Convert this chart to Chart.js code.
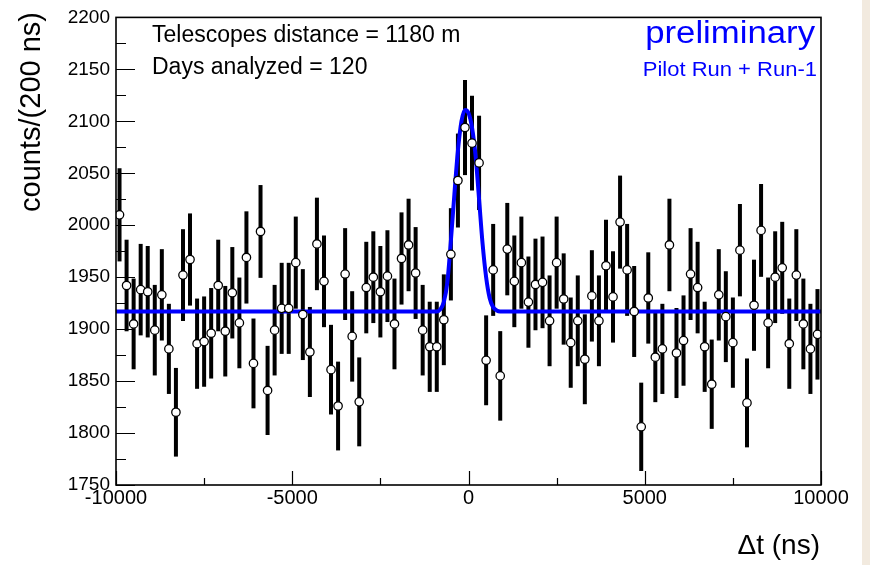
<!DOCTYPE html>
<html>
<head>
<meta charset="utf-8">
<title>Δt distribution</title>
<script src="https://cdn.jsdelivr.net/npm/chart.js@4.4.1/dist/chart.umd.min.js"></script>
<style>
  html, body { margin: 0; padding: 0; background: #fff; }
  #wrap { position: relative; width: 870px; height: 565px; overflow: hidden; }
  #edge { position: absolute; left: 862px; top: 0; width: 8px; height: 565px; background: #f2eadf; }
</style>
</head>
<body>
<div id="wrap">
  <canvas id="chart" width="870" height="565"></canvas>
  <div id="edge"></div>
</div>
<script>
// histogram binning (ns)
const binLow = -10000;
const binWidth = 200;

// counts per 200 ns bin, from -10000 to 10000 ns
const counts = [
  2010, 1942, 1905, 1938, 1936, 1899, 1933, 1881, 1820, 1952,
  1967, 1886, 1888, 1896, 1942, 1898, 1935, 1906, 1969, 1867,
  1994, 1841, 1899, 1920, 1920, 1964, 1914, 1878, 1982, 1946,
  1861, 1826, 1953, 1893, 1830, 1940, 1950, 1936, 1951, 1905,
  1968, 1981, 1954, 1899, 1883, 1883, 1909, 1972, 2043, 2094,
  2079, 2060, 1870, 1957, 1855, 1977, 1946, 1964, 1926, 1943,
  1945, 1908, 1964, 1929, 1887, 1908, 1871, 1932, 1908, 1961,
  1931, 2003, 1957, 1917, 1806, 1930, 1873, 1881, 1981, 1877,
  1889, 1953, 1940, 1883, 1847, 1933, 1912, 1887, 1976, 1829,
  1923, 1995, 1906, 1950, 1959, 1886, 1952, 1905, 1881, 1895
];

// fitted curve (gaussian peak on flat background), sampled
const fitT = [-10000, -1000, -900, -800, -700, -600, -500, -400, -300, -200, -100, 0,
  100, 200, 300, 400, 500, 600, 700, 800, 900, 10000];
const fitY = [1917, 1917, 1917, 1919, 1926, 1945, 1985, 2030, 2072, 2100, 2111, 2108,
  2094, 2067, 2025, 1982, 1950, 1930, 1921, 1918, 1917, 1917];

const xTicks = [-10000, -7500, -5000, -2500, 0, 2500, 5000, 7500, 10000];
const xTickLabels = ['-10000', '', '-5000', '', '0', '', '5000', '', '10000'];
const yTicks = [1750, 1775, 1800, 1825, 1850, 1875, 1900, 1925, 1950, 1975, 2000,
  2025, 2050, 2075, 2100, 2125, 2150, 2175, 2200];

const points = counts.map((c, i) => ({ x: binLow + binWidth * (i + 0.5), y: c }));
const fitPoints = fitT.map((t, i) => ({ x: t, y: fitY[i] }));

const FONT = '"Liberation Sans", Arial, Helvetica, sans-serif';

// poisson error bars under the markers
const errorBars = {
  id: 'errorBars',
  beforeDatasetsDraw(chart) {
    const { ctx, scales: { x, y } } = chart;
    ctx.save();
    ctx.strokeStyle = '#000';
    ctx.lineWidth = 4;
    points.forEach(p => {
      const e = Math.sqrt(p.y);
      const px = x.getPixelForValue(p.x);
      ctx.beginPath();
      ctx.moveTo(px, y.getPixelForValue(p.y - e));
      ctx.lineTo(px, y.getPixelForValue(p.y + e));
      ctx.stroke();
    });
    ctx.restore();
  }
};

// frame, inner tick marks and text
const decorations = {
  id: 'decorations',
  afterDraw(chart) {
    const { ctx, chartArea: a, scales: { x, y } } = chart;
    ctx.save();
    ctx.strokeStyle = '#000';
    ctx.lineWidth = 1.6;
    ctx.strokeRect(a.left, a.top, a.right - a.left, a.bottom - a.top);

    ctx.lineWidth = 1.2;
    ctx.beginPath();
    yTicks.forEach(v => {
      const py = Math.round(y.getPixelForValue(v)) + 0.5;
      const len = v % 50 === 0 ? 19 : 10;
      ctx.moveTo(a.left, py);
      ctx.lineTo(a.left + len, py);
    });
    xTicks.forEach(v => {
      const px = Math.round(x.getPixelForValue(v)) + 0.5;
      const len = v % 5000 === 0 ? 14 : 7;
      ctx.moveTo(px, a.bottom);
      ctx.lineTo(px, a.bottom - len);
    });
    ctx.stroke();

    ctx.fillStyle = '#000';
    ctx.textBaseline = 'alphabetic';
    ctx.textAlign = 'left';
    ctx.font = '23px ' + FONT;
    ctx.fillText('Telescopes distance = 1180 m', 152, 42);
    ctx.fillText('Days analyzed = 120', 152, 74);

    ctx.fillStyle = '#0000ff';
    ctx.textAlign = 'right';
    ctx.save();
    ctx.translate(815, 43);
    ctx.scale(1.12, 1);
    ctx.font = '31px ' + FONT;
    ctx.fillText('preliminary', 0, 0);
    ctx.restore();
    ctx.save();
    ctx.translate(817, 76);
    ctx.scale(1.1, 1);
    ctx.font = '20px ' + FONT;
    ctx.fillText('Pilot Run + Run-1', 0, 0);
    ctx.restore();

    ctx.fillStyle = '#000';
    ctx.font = '28px ' + FONT;
    ctx.fillText('Δt (ns)', 820, 554);

    ctx.save();
    ctx.translate(39.5, 12);
    ctx.rotate(-Math.PI / 2);
    ctx.font = '29px ' + FONT;
    ctx.textAlign = 'right';
    ctx.fillText('counts/(200 ns)', 0, 0);
    ctx.restore();
    ctx.restore();
  }
};

const ctx = document.getElementById('chart').getContext('2d');

const chart = new Chart(ctx, {
  data: {
    datasets: [
      {
        type: 'scatter',
        label: 'data',
        data: points,
        order: 0,
        pointRadius: 4.2,
        pointBackgroundColor: '#fff',
        pointBorderColor: '#000',
        pointBorderWidth: 1.3
      },
      {
        type: 'line',
        label: 'fit',
        data: fitPoints,
        order: 1,
        borderColor: '#0000ff',
        borderWidth: 4,
        pointRadius: 0,
        fill: false,
        cubicInterpolationMode: 'monotone'
      }
    ]
  },
  options: {
    responsive: false,
    animation: false,
    devicePixelRatio: 1,
    layout: { padding: { top: 12, right: 49, left: 0, bottom: 0 } },
    plugins: { legend: { display: false }, tooltip: { enabled: false } },
    scales: {
      x: {
        type: 'linear',
        min: -10000,
        max: 10000,
        afterBuildTicks: s => { s.ticks = xTicks.map(v => ({ value: v })); },
        afterFit: s => { s.height = 80; },
        grid: { display: false, drawTicks: false },
        border: { display: false },
        ticks: {
          autoSkip: false,
          maxRotation: 0,
          padding: 1,
          color: '#000',
          font: { family: FONT, size: 20 },
          callback: (v) => xTickLabels[xTicks.indexOf(v)]
        }
      },
      y: {
        type: 'linear',
        min: 1750,
        max: 2200,
        afterBuildTicks: s => { s.ticks = yTicks.map(v => ({ value: v })); },
        afterFit: s => { s.width = 116; },
        grid: { display: false, drawTicks: false },
        border: { display: false },
        ticks: {
          autoSkip: false,
          padding: 6,
          color: '#000',
          font: { family: FONT, size: 19 },
          callback: (v) => (v % 50 === 0 ? String(v) : '')
        }
      }
    }
  },
  plugins: [errorBars, decorations]
});
</script>
</body>
</html>
